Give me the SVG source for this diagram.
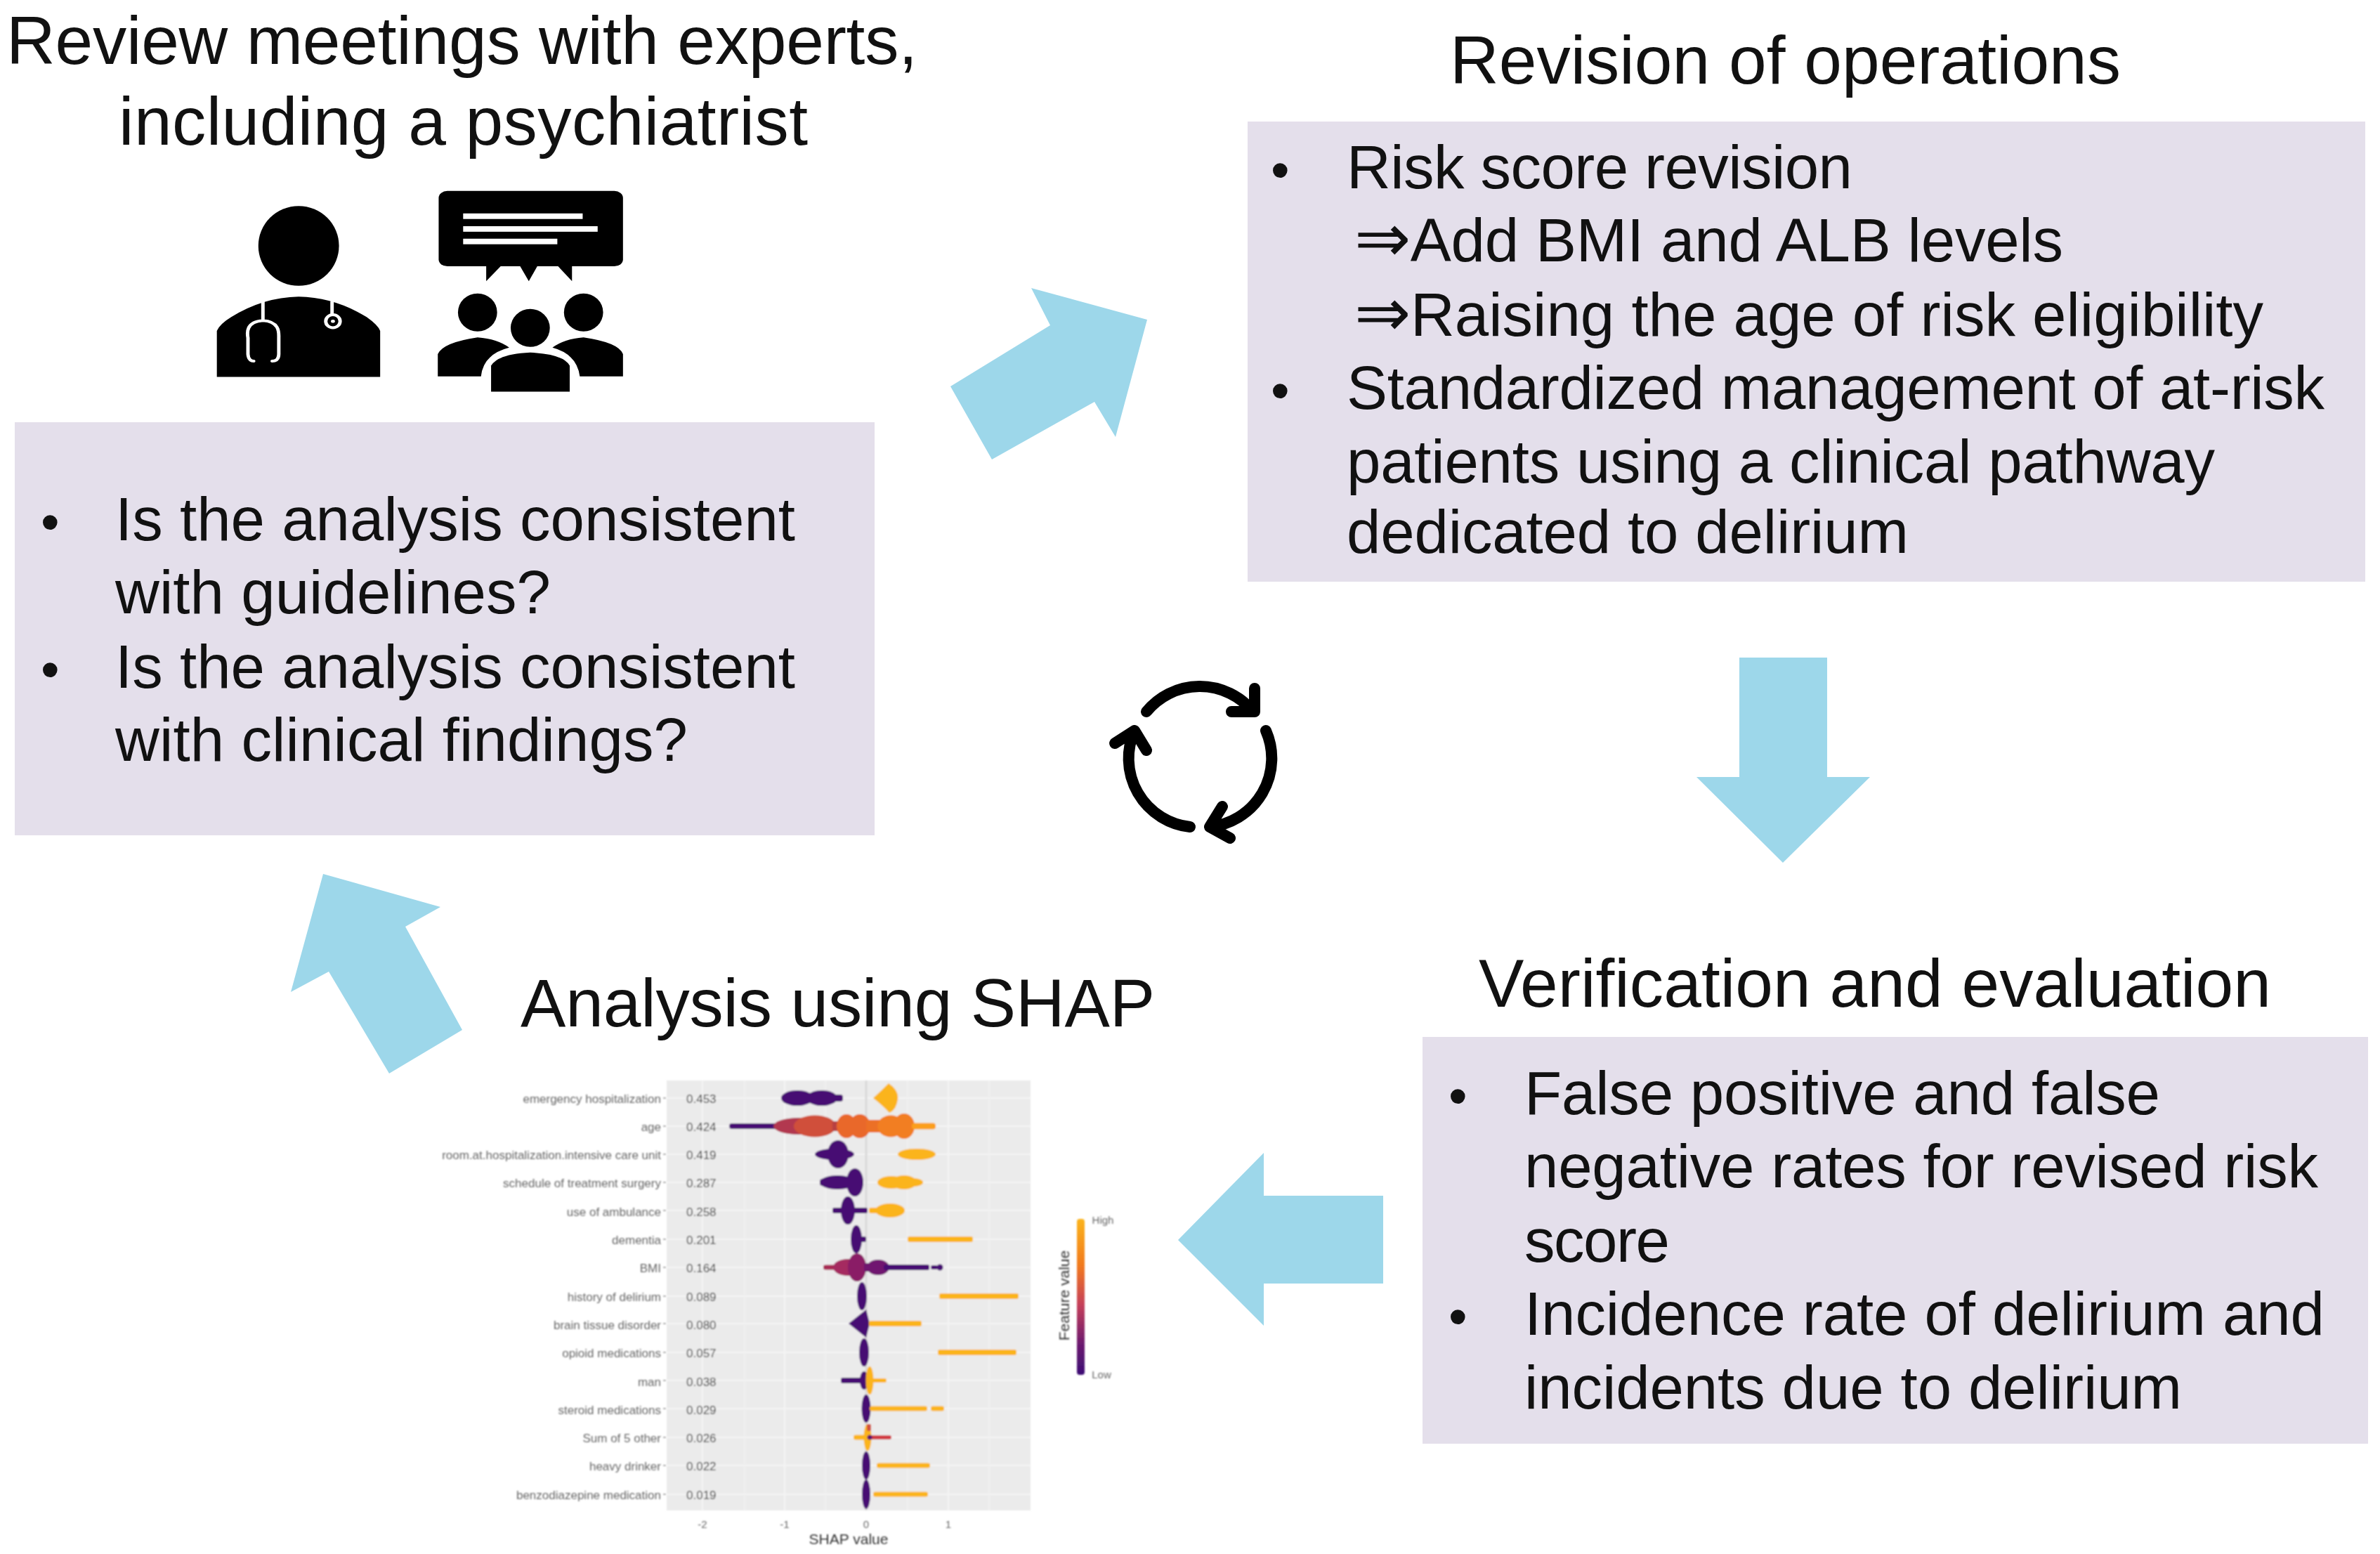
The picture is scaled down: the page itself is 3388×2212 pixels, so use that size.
<svg xmlns="http://www.w3.org/2000/svg" width="3388" height="2212" viewBox="0 0 3388 2212">
<style>
text{font-family:"Liberation Sans",Arial,sans-serif;fill:#111}
.t{font-size:96.5px}
.b{font-size:87px}
.d{font-size:76px}
.p{fill:#e4dfeb}
.a{fill:#9dd7ea}
.pu{fill:#470f73}
.ye{fill:#fbb41f}
.rl{font-size:17px;text-anchor:end;fill:#666}
.rv{font-size:17px;fill:#333}
.ax{font-size:15px;text-anchor:middle;fill:#666}
.lg{font-size:21px;text-anchor:middle;fill:#333}
.g{stroke:#f5f5f5;stroke-width:2;fill:none}
.w{fill:none;stroke:#fff;stroke-width:12;stroke-linecap:round}
.cy{fill:none;stroke:#000;stroke-width:16;stroke-linecap:round;stroke-linejoin:round}
</style>
<defs>
<linearGradient id="legG" x1="0" y1="0" x2="0" y2="1">
<stop offset="0" stop-color="#fbb41f"/><stop offset=".3" stop-color="#f1791f"/><stop offset=".55" stop-color="#c5405a"/><stop offset=".8" stop-color="#6d1a6f"/><stop offset="1" stop-color="#3d0e75"/>
</linearGradient>
<filter id="soft" x="-5%" y="-5%" width="110%" height="110%"><feGaussianBlur stdDeviation="1"/></filter>
</defs>
<rect width="3388" height="2212" fill="#fff"/>

<g id="connectors">
<polygon class="a" points="1353,550 1412,654 1558,572 1588,622 1633,455 1468,410 1495,463"/>
<polygon class="a" points="2476,936 2601,936 2601,1106 2662,1106 2538,1228 2415,1106 2476,1106"/>
<polygon class="a" points="1969,1702 1799,1702 1799,1641 1677,1765 1799,1887 1799,1827 1969,1827"/>
<polygon class="a" points="460,1244 627,1291 577,1319 658,1466 554,1528 468,1383 414,1412"/>
</g>

<g id="node-review">
<text class="t" x="9" y="91" textLength="1297">Review meetings with experts,</text>
<text class="t" x="169" y="206" textLength="981">including a psychiatrist</text>
<g id="icon-doctor" transform="matrix(.41 0 0 .33 280 250)">
<ellipse cx="354" cy="303" rx="140" ry="172"/>
<path d="M70 868V670Q80 640 120 610Q230 525 354 522Q480 525 590 610Q630 645 637 670V868Z"/>
<path class="w" d="M230 540V625C170 630 175 680 178 700V770Q180 800 198 800M230 625C290 630 285 680 285 700V770Q285 800 262 800M470 545V600"/>
<ellipse class="w" cx="473" cy="628" rx="25" ry="28"/>
<circle cx="473" cy="628" r="7" fill="#fff"/>
</g>
<g id="icon-meeting" transform="matrix(.41 0 0 .33 278 250)">
<rect x="845" y="66" width="640" height="325" rx="30"/>
<polygon points="1010,385 1010,455 1065,385"/><polygon points="1125,385 1158,455 1190,385"/><polygon points="1255,385 1308,455 1308,385"/>
<g fill="#fff"><rect x="930" y="163" width="415" height="24"/><rect x="930" y="218" width="467" height="24"/><rect x="930" y="272" width="327" height="24"/></g>
<ellipse cx="980" cy="590" rx="68" ry="82"/><ellipse cx="1348" cy="590" rx="68" ry="82"/><ellipse cx="1163" cy="657" rx="68" ry="82"/>
<path d="M842 866V770Q860 720 980 698Q1050 705 1090 742Q1000 770 992 866Z"/>
<path d="M1485 866V770Q1470 720 1348 698Q1280 705 1240 742Q1325 770 1335 866Z"/>
<path d="M1027 932V820Q1050 770 1163 763Q1280 770 1300 820V932Z"/>
</g>
<rect class="p" x="21" y="601" width="1224" height="588"/>
<text class="d" x="58" y="769">•</text><text class="b" x="164" y="769" textLength="968">Is the analysis consistent</text>
<text class="b" x="164" y="873" textLength="620">with guidelines?</text>
<text class="d" x="58" y="979">•</text><text class="b" x="164" y="979" textLength="968">Is the analysis consistent</text>
<text class="b" x="164" y="1083" textLength="815">with clinical findings?</text>
</g>

<g id="node-revision">
<text class="t" x="2064" y="119" textLength="955">Revision of operations</text>
<rect class="p" x="1776" y="173" width="1591" height="655"/>
<text class="d" x="1809" y="268">•</text><text class="b" x="1917" y="268" textLength="720">Risk score revision</text>
<text class="b" x="1928" y="372" textLength="1009"><tspan font-size="96">⇒</tspan>Add BMI and ALB levels</text>
<text class="b" x="1928" y="478" textLength="1294"><tspan font-size="96">⇒</tspan>Raising the age of risk eligibility</text>
<text class="d" x="1809" y="582">•</text><text class="b" x="1917" y="582" textLength="1392">Standardized management of at-risk</text>
<text class="b" x="1917" y="687" textLength="1236">patients using a clinical pathway</text>
<text class="b" x="1917" y="787" textLength="800">dedicated to delirium</text>
</g>

<g id="node-verification">
<text class="t" x="2105" y="1433" textLength="1128">Verification and evaluation</text>
<rect class="p" x="2025" y="1476" width="1346" height="579"/>
<text class="d" x="2062" y="1586">•</text><text class="b" x="2170" y="1586" textLength="905">False positive and false</text>
<text class="b" x="2170" y="1690" textLength="1130">negative rates for revised risk</text>
<text class="b" x="2170" y="1796" textLength="207">score</text>
<text class="d" x="2062" y="1900">•</text><text class="b" x="2170" y="1900" textLength="1139">Incidence rate of delirium and</text>
<text class="b" x="2170" y="2005" textLength="936">incidents due to delirium</text>
</g>

<g id="node-shap">
<text class="t" x="741" y="1461" textLength="903">Analysis using SHAP</text>
<g id="shap-plot" filter="url(#soft)">
<rect x="949" y="1538" width="518" height="612" fill="#ebebeb"/>
<path class="g" d="M1000 1538V2150M1117 1538V2150M1350 1538V2150M949 1563H1467M949 1603H1467M949 1643H1467M949 1683H1467M949 1723H1467M949 1764H1467M949 1804H1467M949 1845H1467M949 1884H1467M949 1925H1467M949 1965H1467M949 2005H1467M949 2046H1467M949 2086H1467M949 2127H1467"/>
<path d="M1060 1538V2150M1175 1538V2150M1292 1538V2150M1408 1538V2150" stroke="#f1f1f1" stroke-width="1.5"/>
<path d="M1233 1538V2150" stroke="#d9d9d9" stroke-width="3"/>
<path d="M944 1563h4M944 1603h4M944 1643h4M944 1683h4M944 1723h4M944 1764h4M944 1804h4M944 1845h4M944 1884h4M944 1925h4M944 1965h4M944 2005h4M944 2046h4M944 2086h4M944 2127h4" stroke="#999" stroke-width="1.5"/>
<g id="rows-purple" class="pu">
<ellipse cx="1135" cy="1563" rx="23" ry="11"/><ellipse cx="1170" cy="1563" rx="22" ry="11"/><rect x="1130" y="1558" width="70" height="10" rx="4"/>
<ellipse cx="1193" cy="1643" rx="15" ry="20"/><ellipse cx="1188" cy="1643" rx="28" ry="8"/>
<ellipse cx="1192" cy="1683" rx="25" ry="10"/><rect x="1167" y="1678" width="30" height="10" rx="4"/><ellipse cx="1217" cy="1683" rx="12" ry="20"/>
<ellipse cx="1207" cy="1723" rx="10" ry="20"/><rect x="1185" y="1719" width="50" height="8" rx="3"/>
<ellipse cx="1219" cy="1764" rx="8" ry="20"/><rect x="1212" y="1760" width="21" height="8" rx="3"/>
<ellipse cx="1227" cy="1845" rx="7" ry="20"/>
<polygon points="1208,1884 1233,1864 1238,1884 1233,1904"/>
<ellipse cx="1230" cy="1925" rx="7" ry="20"/>
<rect x="1197" y="1961" width="36" height="8" rx="3"/><ellipse cx="1230" cy="1965" rx="6" ry="13"/>
<ellipse cx="1233" cy="2005" rx="6.500" ry="20"/>
<ellipse cx="1233" cy="2086" rx="6" ry="20"/>
<ellipse cx="1233" cy="2127" rx="6" ry="21"/>
</g>
<g id="rows-yellow" class="ye">
<path d="M1265 1542Q1280 1552 1278 1565Q1276 1580 1266 1584Q1258 1575 1243 1563Q1255 1552 1265 1542Z"/>
<ellipse cx="1305" cy="1643" rx="27" ry="8"/>
<ellipse cx="1269" cy="1683" rx="20" ry="9"/><ellipse cx="1287" cy="1683" rx="18" ry="10"/><ellipse cx="1300" cy="1683" rx="14" ry="6"/>
<ellipse cx="1267" cy="1723" rx="21" ry="10"/><rect x="1237" y="1719" width="50" height="8" rx="3"/>
<rect x="1292" y="1760" width="93" height="8" rx="3"/>
<rect x="1337" y="1841" width="113" height="8" rx="3"/>
<rect x="1237" y="1880" width="75" height="8" rx="3"/>
<rect x="1335" y="1921" width="112" height="8" rx="3"/>
<ellipse cx="1238" cy="1965" rx="5.500" ry="20"/><rect x="1238" y="1962" width="24" height="6" rx="3"/>
<rect x="1238" y="2001.500" width="82" height="7" rx="3"/><rect x="1325" y="2001.500" width="19" height="7" rx="3"/>
<rect x="1248" y="2082.500" width="76" height="7" rx="3"/>
<rect x="1243" y="2123.500" width="78" height="7" rx="3"/>
<ellipse cx="1235" cy="2046" rx="5.500" ry="19"/><rect x="1215" y="2042.500" width="22" height="7" rx="3"/>
</g>
<g id="row-age">
<rect x="1038" y="1599" width="72" height="8" rx="4" fill="#470f73"/>
<ellipse cx="1137" cy="1603" rx="36" ry="12" fill="#b2374f"/>
<ellipse cx="1160" cy="1603" rx="30" ry="15.500" fill="#d0503a"/>
<rect x="1185" y="1596" width="14" height="14" fill="#b83f42"/>
<ellipse cx="1205" cy="1603" rx="14" ry="17" fill="#e9682b"/><ellipse cx="1224" cy="1603" rx="15" ry="17" fill="#e9682b"/>
<rect x="1233" y="1594" width="24" height="18" fill="#ec6f27"/>
<ellipse cx="1268" cy="1603" rx="19" ry="15.500" fill="#f27e20"/><ellipse cx="1287" cy="1603" rx="15" ry="18" fill="#f27e20"/>
<rect x="1298" y="1598.500" width="34" height="9" rx="4" fill="#fb9f1c"/>
</g>
<g id="row-bmi">
<rect x="1172" y="1800.500" width="30" height="7" rx="3" fill="#a82a55"/>
<ellipse cx="1207" cy="1804" rx="21" ry="12" fill="#a52a60"/>
<ellipse cx="1220" cy="1804" rx="13" ry="20" fill="#8a1f66"/>
<rect x="1230" y="1798" width="25" height="12" fill="#6f1870"/>
<ellipse cx="1250" cy="1804" rx="16" ry="11" fill="#6f1870"/>
<rect x="1258" y="1800" width="65" height="8" rx="3" fill="#470f73"/>
<rect x="1325" y="1801" width="10" height="6" rx="3" fill="#470f73"/>
<circle cx="1338" cy="1804" r="4.500" fill="#470f73"/>
</g>
<g id="row-other">
<rect x="1237" y="2043" width="32" height="6" rx="3" fill="#d23c45"/>
<rect x="1234" y="2027" width="6" height="10" rx="2" fill="#d2503c"/>
<circle cx="1238" cy="2046" r="3.500" fill="#5d1672"/>
</g>
<g id="shap-row-labels">
<text class="rl" x="941" y="1570">emergency hospitalization</text>
<text class="rl" x="941" y="1610">age</text>
<text class="rl" x="941" y="1650">room.at.hospitalization.intensive care unit</text>
<text class="rl" x="941" y="1690">schedule of treatment surgery</text>
<text class="rl" x="941" y="1731">use of ambulance</text>
<text class="rl" x="941" y="1771">dementia</text>
<text class="rl" x="941" y="1811">BMI</text>
<text class="rl" x="941" y="1852">history of delirium</text>
<text class="rl" x="941" y="1892">brain tissue disorder</text>
<text class="rl" x="941" y="1932">opioid medications</text>
<text class="rl" x="941" y="1973">man</text>
<text class="rl" x="941" y="2013">steroid medications</text>
<text class="rl" x="941" y="2053">Sum of 5 other</text>
<text class="rl" x="941" y="2093">heavy drinker</text>
<text class="rl" x="941" y="2134">benzodiazepine medication</text>
</g>
<g id="shap-values">
<text class="rv" x="977" y="1570">0.453</text>
<text class="rv" x="977" y="1610">0.424</text>
<text class="rv" x="977" y="1650">0.419</text>
<text class="rv" x="977" y="1690">0.287</text>
<text class="rv" x="977" y="1731">0.258</text>
<text class="rv" x="977" y="1771">0.201</text>
<text class="rv" x="977" y="1811">0.164</text>
<text class="rv" x="977" y="1852">0.089</text>
<text class="rv" x="977" y="1892">0.080</text>
<text class="rv" x="977" y="1932">0.057</text>
<text class="rv" x="977" y="1973">0.038</text>
<text class="rv" x="977" y="2013">0.029</text>
<text class="rv" x="977" y="2053">0.026</text>
<text class="rv" x="977" y="2093">0.022</text>
<text class="rv" x="977" y="2134">0.019</text>
</g>
<text class="ax" x="1000" y="2175">-2</text><text class="ax" x="1117" y="2175">-1</text><text class="ax" x="1233" y="2175">0</text><text class="ax" x="1350" y="2175">1</text>
<text class="lg" x="1208" y="2198">SHAP value</text>
<rect x="1533" y="1735" width="11" height="222" rx="4" fill="url(#legG)"/>
<text class="ax" x="1570" y="1742">High</text><text class="ax" x="1568" y="1962">Low</text>
<text class="lg" transform="translate(1522 1844) rotate(-90)">Feature value</text>
</g>
</g>

<g id="cycle-icon" transform="translate(3 0)">
<path class="cy" d="M1629 1013A98 98 0 0 1 1780 1012M1783 980V1013H1750"/>
<path class="cy" d="M1799 1040A98 98 0 0 1 1719 1177M1737 1148L1719 1177L1748 1193"/>
<path class="cy" d="M1691 1177A98 98 0 0 1 1612 1040M1584 1058L1612 1040L1629 1068"/>
</g>
</svg>
